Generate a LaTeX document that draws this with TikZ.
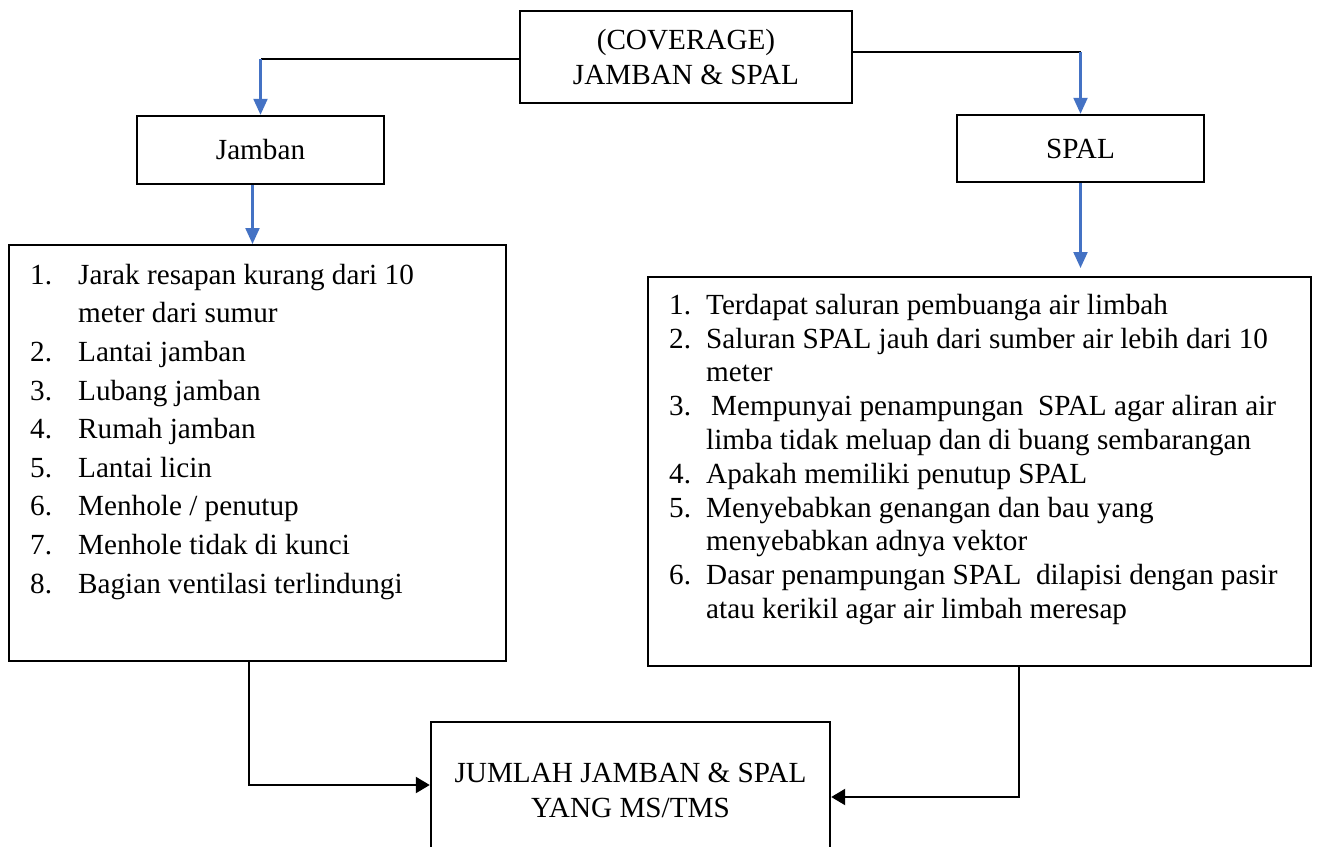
\documentclass[tikz,border=0pt]{standalone}
\usepackage{fontspec}
\setmainfont{Liberation Serif}
\usetikzlibrary{positioning, arrows.meta}
\definecolor{wordblue}{HTML}{4472C4}
\tikzset{
    box/.style={draw, line width=1.2pt, inner sep=0pt, align=center},
    conn/.style={draw, line width=1.1pt},
    blackarrow/.style={conn, -{Triangle[length=7pt,width=8pt]}},
    bluearrow/.style={draw=wordblue, line width=1.1pt, -{Triangle[length=8pt,width=7pt]}}
}

\begin{document}
\begin{tikzpicture}[x=0.5pt, y=-0.5pt, font=\fontsize{14.6}{17.5}\selectfont]
    % kerangka konsep
    \path[fill=white, use as bounding box] (0,0) rectangle (1317,846);

    \node[box, minimum width=166pt, minimum height=46pt] (cov) at (686,57) {(COVERAGE)\\JAMBAN \& SPAL};
    \node[box, minimum width=123.5pt, minimum height=34pt] (jamban) at (260.5,150) {Jamban};
    \node[box, minimum width=123.5pt, minimum height=33.5pt] (spal) at (1080.5,148.5) {SPAL};

    \node[box, anchor=north west, align=left] (list1) at (8,244) {%
        \begin{minipage}[t][208pt][t]{248.5pt}
        \fontsize{14.6}{19.3}\selectfont\vspace*{6pt}%
        \hspace*{10.5pt}\begin{tabular}[t]{@{}p{24pt}@{}l@{}}
        1. & Jarak resapan kurang dari 10\\
           & meter dari sumur\\
        2. & Lantai jamban\\
        3. & Lubang jamban\\
        4. & Rumah jamban\\
        5. & Lantai licin\\
        6. & Menhole / penutup\\
        7. & Menhole tidak di kunci\\
        8. & Bagian ventilasi terlindungi
        \end{tabular}
        \end{minipage}};

    \node[box, anchor=north west, align=left] (list2) at (647,276) {%
        \begin{minipage}[t][194.5pt][t]{331.5pt}
        \fontsize{14.6}{16.9}\selectfont\vspace*{6.7pt}%
        \hspace*{10.5pt}\begin{tabular}[t]{@{}p{18.5pt}@{}l@{}}
        1. & Terdapat saluran pembuanga air limbah\\
        2. & Saluran SPAL jauh dari sumber air lebih dari 10\\
           & meter\\
        3. & \hspace{2.5pt}Mempunyai penampungan\ \ SPAL agar aliran air\\
           & limba tidak meluap dan di buang sembarangan\\
        4. & Apakah memiliki penutup SPAL\\
        5. & Menyebabkan genangan dan bau yang\\
           & menyebabkan adnya vektor\\
        6. & Dasar penampungan SPAL\ \ dilapisi dengan pasir\\
           & atau kerikil agar air limbah meresap
        \end{tabular}
        \end{minipage}};

    \node[box, minimum width=199.5pt, minimum height=68pt] (total) at (630.5,790) {JUMLAH JAMBAN \& SPAL\\YANG MS/TMS};

    \draw[conn] ([yshift=-1pt]cov.west) -- ([yshift=-1pt]cov.west -| jamban.north);
    \draw[bluearrow] ([yshift=-1pt]cov.west -| jamban.north) -- (jamban.north);
    \draw[conn] ([yshift=2.5pt]cov.east) -- ([yshift=2.5pt]cov.east -| spal.north);
    \draw[bluearrow] ([yshift=2.5pt]cov.east -| spal.north) -- (spal.north);
    \draw[bluearrow] ([xshift=-4pt]jamban.south) -- ([xshift=-4pt]jamban.south |- list1.north);
    \draw[bluearrow, shorten >=4pt] (spal.south) -- (spal.south |- list2.north);

    \draw[blackarrow] ([xshift=-4.25pt]list1.south) |- ([yshift=2.5pt]total.west);
    \draw[blackarrow] ([xshift=19.75pt]list2.south) |- ([yshift=-3.5pt]total.east);
\end{tikzpicture}
\end{document}
